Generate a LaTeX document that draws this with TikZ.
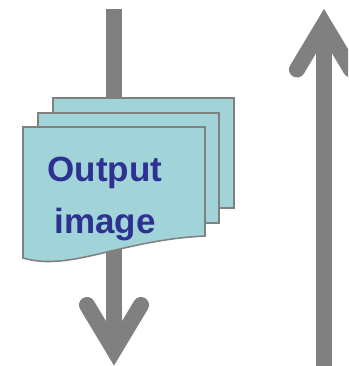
\documentclass[tikz,border=0pt]{standalone}
\usepackage{fontspec}
\setmainfont{Liberation Sans}
\definecolor{cardfill}{RGB}{160,212,216}
\definecolor{labelblue}{RGB}{46,49,146}
\tikzset{
  card/.style={fill=cardfill, draw=gray, line width=1.1pt},
  flow/.style={draw=gray, line width=0.4cm},
  barb/.style={draw=gray, line width=0.4cm, line cap=round, line join=miter},
}
\begin{document}
\begin{tikzpicture}[x=0.025cm,y=-0.025cm]
\useasboundingbox (0,0) rectangle (348,366);
\clip (0,0) rectangle (348,366);
% down arrow, runs behind the pages
\draw[flow] (114,9) -- (114,350);
\draw[barb] (87,305) -- (114,350) -- (141,305);
% up arrow on the right
\draw[flow] (324,366) -- (324,24.5);
\draw[barb] (297,69.5) -- (324,24.5) -- (351,69.5);
% stack of pages
\filldraw[card] (53,98) rectangle (234,208);
\filldraw[card] (38,113) rectangle (219,223);
\filldraw[card] (23,127) -- (205,127) -- (205,236) .. controls (120,240) and (70,272) .. (23,258) -- cycle;
% last line sits on the base anchor
\node[font=\bfseries\fontsize{24.9}{36.3}\selectfont, text=labelblue, align=center, anchor=base] (label) at (105,233) {Output\\image};
\end{tikzpicture}
\end{document}
